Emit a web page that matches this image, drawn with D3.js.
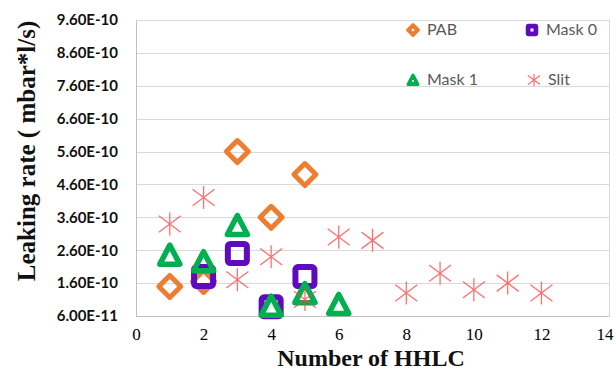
<!DOCTYPE html>
<html><head><meta charset="utf-8">
<script src="https://cdn.jsdelivr.net/npm/d3@7"></script>
<style>html,body{margin:0;padding:0;background:#fff;}svg{display:block;}</style>
</head><body><svg id="c" width="616" height="382"></svg>
<script>
const seriesNames = ["PAB", "Mask 0", "Mask 1", "Slit"];
const pabX = [1, 2, 3, 4, 5];
const pabY = [1.5e-10, 1.65e-10, 5.6e-10, 3.6e-10, 4.9e-10];
const mask0X = [2, 3, 4, 5];
const mask0Y = [1.8e-10, 2.5e-10, 0.88e-10, 1.8e-10];
const mask1X = [1, 2, 3, 4, 5, 6];
const mask1Y = [2.45e-10, 2.25e-10, 3.35e-10, 0.9e-10, 1.28e-10, 0.95e-10];
const slitX = [1, 2, 3, 4, 5, 6, 7, 8, 9, 10, 11, 12];
const slitY = [3.4e-10, 4.2e-10, 1.7e-10, 2.4e-10, 1.1e-10, 3.0e-10, 2.9e-10, 1.3e-10, 1.9e-10, 1.4e-10, 1.6e-10, 1.3e-10];
const xTicks = [0, 2, 4, 6, 8, 10, 12, 14];
const yTicks = [6.0e-11, 1.6e-10, 2.6e-10, 3.6e-10, 4.6e-10, 5.6e-10, 6.6e-10, 7.6e-10, 8.6e-10, 9.6e-10];
const xTitle = "Number of HHLC";
const yTitle = "Leaking rate ( mbar*l/s)";

const colors = {"PAB": "#ED7D31", "Mask 0": "#5E0BBE", "Mask 1": "#00B050", "Slit": "#FF4040"};

const svg = d3.select("#c");
const x = d3.scaleLinear().domain([0, 14]).range([136, 609]);
const y = d3.scaleLinear().domain([6.0e-11, 9.6e-10]).range([316, 20]);

// gridlines
svg.append("g").selectAll("line").data(yTicks).join("line")
  .attr("x1", x(0)).attr("x2", x(14))
  .attr("y1", d => Math.round(y(d)) + 0.5).attr("y2", d => Math.round(y(d)) + 0.5)
  .attr("stroke", "#D9D9D9").attr("stroke-width", 1);
// plot border
svg.append("line").attr("x1", x(14)+0.5).attr("x2", x(14)+0.5).attr("y1", y(9.6e-10)).attr("y2", y(6e-11)).attr("stroke", "#D9D9D9");

// axes
const yAxis = d3.axisLeft(y).tickValues(yTicks).tickSize(0).tickPadding(18)
  .tickFormat(d => d.toExponential(2).toUpperCase());
const gy = svg.append("g").attr("transform", `translate(${x(0)},0)`).call(yAxis);
gy.select(".domain").attr("stroke", "#BFBFBF");
gy.selectAll("text").attr("font-family", "Lato, 'Liberation Sans', sans-serif").attr("font-weight", "bold")
  .attr("font-size", "15px").attr("fill", "#111");

const xAxis = d3.axisBottom(x).tickValues(xTicks).tickSize(0).tickPadding(12).tickFormat(d3.format("d"));
const gx = svg.append("g").attr("transform", `translate(0,${y(6e-11)})`).call(xAxis);
gx.select(".domain").attr("stroke", "#BFBFBF");
gx.selectAll("text").attr("font-family", "'Liberation Serif', serif").attr("font-size", "17px").attr("fill", "#000");
gx.selectAll(".tick").filter(d => d === 14).select("text").attr("text-anchor", "end").attr("dx", "4");

// titles
svg.append("text").attr("x", 371).attr("y", 366).attr("text-anchor", "middle")
  .attr("font-family", "'Liberation Serif', serif").attr("font-weight", "bold").attr("font-size", "24px").attr("fill", "#111").text(xTitle);
svg.append("text").attr("transform", "translate(35,151) rotate(-90)").attr("text-anchor", "middle")
  .attr("font-family", "'Liberation Serif', serif").attr("font-weight", "bold").attr("font-size", "25px").attr("fill", "#111").text(yTitle);

// marker shapes
function drawMarker(g, name, big) {
  const s = big ? 1 : 0.5;
  const c = colors[name];
  if (name === "PAB") {
    const r = 11 * s;
    g.append("path").attr("d", `M0,${-r}L${r},0L0,${r}L${-r},0Z`)
      .attr("fill", big ? "none" : c).attr("stroke", c).attr("stroke-width", big ? 5 : 3).attr("stroke-linejoin", "round");
    if (!big) g.append("circle").attr("r", 1.3).attr("fill", "#fff");
  } else if (name === "Mask 0") {
    const r = 9.5 * s;
    g.append("rect").attr("x", -r).attr("y", -r).attr("width", 2*r).attr("height", 2*r).attr("rx", big ? 2.5 : 1.5)
      .attr("fill", big ? "none" : c).attr("stroke", c).attr("stroke-width", big ? 6 : 3);
    if (!big) g.append("rect").attr("x", -1.5).attr("y", -1.5).attr("width", 3).attr("height", 3).attr("fill", "#fff");
  } else if (name === "Mask 1") {
    const r = 10 * s;
    g.append("path").attr("d", `M0,${-r}L${r},${r*0.9}L${-r},${r*0.9}Z`)
      .attr("fill", big ? "none" : c).attr("stroke", c).attr("stroke-width", big ? 5.5 : 3).attr("stroke-linejoin", "round");
    if (!big) g.append("circle").attr("r", 1).attr("cy", 1).attr("fill", "#fff");
  } else {
    const r = big ? 11 : 6;
    const p = big ? 11.5 : 6;
    g.append("path").attr("d", `M0,${-p}L0,${p}M${-r},${-r*0.75}L${r},${r*0.75}M${-r},${r*0.75}L${r},${-r*0.75}`)
      .attr("fill", "none").attr("stroke", c).attr("stroke-width", big ? 1.3 : 1.2).attr("stroke-opacity", 0.75);
  }
}

const series = [
  {name: "PAB", xs: pabX, ys: pabY},
  {name: "Mask 0", xs: mask0X, ys: mask0Y},
  {name: "Mask 1", xs: mask1X, ys: mask1Y},
  {name: "Slit", xs: slitX, ys: slitY}
];
series.forEach(sr => {
  const g = svg.append("g");
  sr.xs.forEach((xv, i) => {
    const m = g.append("g").attr("transform", `translate(${x(xv)},${y(sr.ys[i])})`);
    drawMarker(m, sr.name, true);
  });
});

// legend
const legendPos = [
  {name: "PAB", mx: 413, my: 30},
  {name: "Mask 0", mx: 532, my: 30},
  {name: "Mask 1", mx: 413, my: 80},
  {name: "Slit", mx: 534, my: 80}
];
legendPos.forEach(l => {
  const m = svg.append("g").attr("transform", `translate(${l.mx},${l.my})`);
  drawMarker(m, l.name, false);
  svg.append("text").attr("x", l.mx + 14).attr("y", l.my + 5)
    .attr("font-family", "Lato, 'Liberation Sans', sans-serif").attr("font-size", "16px").attr("fill", "#595959").text(l.name);
});
</script></body></html>
